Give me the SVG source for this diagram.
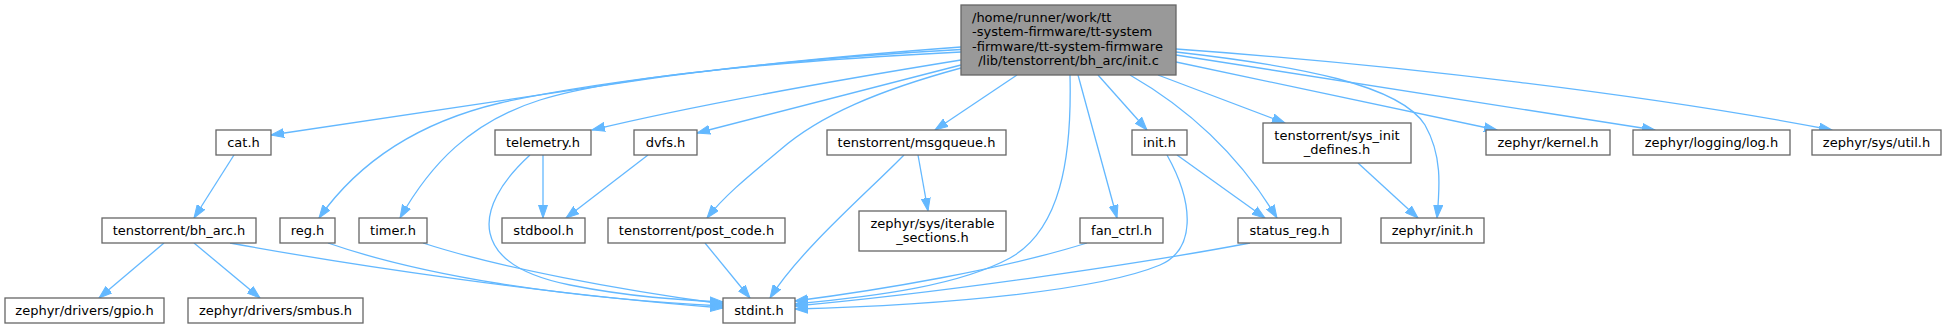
<svg xmlns="http://www.w3.org/2000/svg" width="1947" height="329" viewBox="0 0 1947 329">
<style>
.n rect{fill:#ffffff;stroke:#666666;stroke-width:1.3}
.n.root rect{fill:#999999}
text{font-family:"DejaVu Sans","Liberation Sans",sans-serif;font-size:13px;fill:#000000}
.c{text-anchor:middle}
.e path{fill:none;stroke:#63b8ff;stroke-width:1.3;marker-end:url(#ah)}
</style>
<defs>
<marker id="ah" markerUnits="userSpaceOnUse" markerWidth="14" markerHeight="10" refX="13" refY="5" orient="auto">
<path d="M0,0.5 L13,5 L0,9.5 Z" fill="#63b8ff" stroke="#63b8ff" stroke-width="1"/>
</marker>
</defs>
<rect width="1947" height="329" fill="#ffffff"/>
<g id="edges" class="e">
<path d="M961,47 C880,53 760,63 640,80 L271,135"/>
<path d="M961,49.5 C800,58 600,80 500,103 C420,122 360,160 319,218"/>
<path d="M961,52 C800,60 620,75 540,100 C470,122 430,165 400,218"/>
<path d="M961,60 C850,78 700,104 592,130"/>
<path d="M961,65 L697,133"/>
<path d="M961,68 C880,90 820,115 780,150 C750,175 725,195 707,218"/>
<path d="M1017,75 L935,130"/>
<path d="M1070,75 C1072,160 1060,230 1010,258 C960,285 880,296 795,304"/>
<path d="M1078,75 L1117,218"/>
<path d="M1098,75 L1147,130"/>
<path d="M1130,75 C1170,98 1230,140 1277,218"/>
<path d="M1158,75 L1285,123"/>
<path d="M1176,52 C1300,66 1400,85 1425,125 C1442,155 1440,185 1437,218"/>
<path d="M1176,49 C1400,65 1650,95 1832,130"/>
<path d="M1176,55 L1655,130"/>
<path d="M1176,62 L1497,130"/>
<path d="M234,155 L194,218"/>
<path d="M164,243 L99,298"/>
<path d="M194,243 L260,298"/>
<path d="M230,243 C350,265 550,295 723,308"/>
<path d="M328,243 C420,275 560,298 723,306"/>
<path d="M423,243 C500,268 620,290 723,304"/>
<path d="M543,155 L543,218"/>
<path d="M530,155 C470,210 470,265 570,285 C630,297 680,300 723,302"/>
<path d="M648,155 L566,218"/>
<path d="M705,243 L750,298"/>
<path d="M904,155 C870,190 800,250 770,298"/>
<path d="M918,155 L928,211"/>
<path d="M1087,243 C1000,270 880,290 795,301"/>
<path d="M1177,155 L1265,218"/>
<path d="M1167,155 C1195,205 1195,250 1160,265 C1100,290 950,305 795,309"/>
<path d="M1250,243 C1150,262 950,292 795,306"/>
<path d="M1358,163 L1418,218"/>
</g>
<g id="node_root" class="n root">
<rect x="961" y="5" width="215" height="70"/>
<text x="972" y="21.5">/home/runner/work/tt</text>
<text x="972" y="36">-system-firmware/tt-system</text>
<text x="972" y="50.5">-firmware/tt-system-firmware</text>
<text x="1068.5" y="65" class="c">/lib/tenstorrent/bh_arc/init.c</text>
</g>
<g id="node_cat" class="n"><rect x="216" y="130" width="55" height="25"/><text x="243.5" y="146.5" class="c">cat.h</text></g>
<g id="node_bh_arc" class="n"><rect x="102" y="218" width="154" height="25"/><text x="179" y="234.5" class="c">tenstorrent/bh_arc.h</text></g>
<g id="node_reg" class="n"><rect x="280" y="218" width="55" height="25"/><text x="307.5" y="234.5" class="c">reg.h</text></g>
<g id="node_timer" class="n"><rect x="359" y="218" width="68" height="25"/><text x="393" y="234.5" class="c">timer.h</text></g>
<g id="node_telemetry" class="n"><rect x="495" y="130" width="96" height="25"/><text x="543" y="146.5" class="c">telemetry.h</text></g>
<g id="node_dvfs" class="n"><rect x="634" y="130" width="63" height="25"/><text x="665.5" y="146.5" class="c">dvfs.h</text></g>
<g id="node_stdbool" class="n"><rect x="502" y="218" width="83" height="25"/><text x="543.5" y="234.5" class="c">stdbool.h</text></g>
<g id="node_post_code" class="n"><rect x="608" y="218" width="177" height="25"/><text x="696.5" y="234.5" class="c">tenstorrent/post_code.h</text></g>
<g id="node_gpio" class="n"><rect x="5" y="298" width="159" height="25"/><text x="84.5" y="314.5" class="c">zephyr/drivers/gpio.h</text></g>
<g id="node_smbus" class="n"><rect x="188" y="298" width="175" height="25"/><text x="275.5" y="314.5" class="c">zephyr/drivers/smbus.h</text></g>
<g id="node_stdint" class="n"><rect x="723" y="298" width="72" height="25"/><text x="759" y="314.5" class="c">stdint.h</text></g>
<g id="node_msgqueue" class="n"><rect x="827" y="130" width="179" height="25"/><text x="916.5" y="146.5" class="c">tenstorrent/msgqueue.h</text></g>
<g id="node_iterable" class="n"><rect x="859" y="211" width="147" height="40"/><text x="932.5" y="227.5" class="c">zephyr/sys/iterable</text><text x="932.5" y="241.5" class="c">_sections.h</text></g>
<g id="node_init" class="n"><rect x="1132" y="130" width="55" height="25"/><text x="1159.5" y="146.5" class="c">init.h</text></g>
<g id="node_fan_ctrl" class="n"><rect x="1080" y="218" width="83" height="25"/><text x="1121.5" y="234.5" class="c">fan_ctrl.h</text></g>
<g id="node_status_reg" class="n"><rect x="1238" y="218" width="103" height="25"/><text x="1289.5" y="234.5" class="c">status_reg.h</text></g>
<g id="node_sys_init_defines" class="n"><rect x="1263" y="123" width="148" height="40"/><text x="1337" y="139.5" class="c">tenstorrent/sys_init</text><text x="1337" y="153.5" class="c">_defines.h</text></g>
<g id="node_zephyr_init" class="n"><rect x="1381" y="218" width="103" height="25"/><text x="1432.5" y="234.5" class="c">zephyr/init.h</text></g>
<g id="node_kernel" class="n"><rect x="1486" y="130" width="124" height="25"/><text x="1548" y="146.5" class="c">zephyr/kernel.h</text></g>
<g id="node_log" class="n"><rect x="1633" y="130" width="157" height="25"/><text x="1711.5" y="146.5" class="c">zephyr/logging/log.h</text></g>
<g id="node_util" class="n"><rect x="1812" y="130" width="129" height="25"/><text x="1876.5" y="146.5" class="c">zephyr/sys/util.h</text></g>
</svg>
